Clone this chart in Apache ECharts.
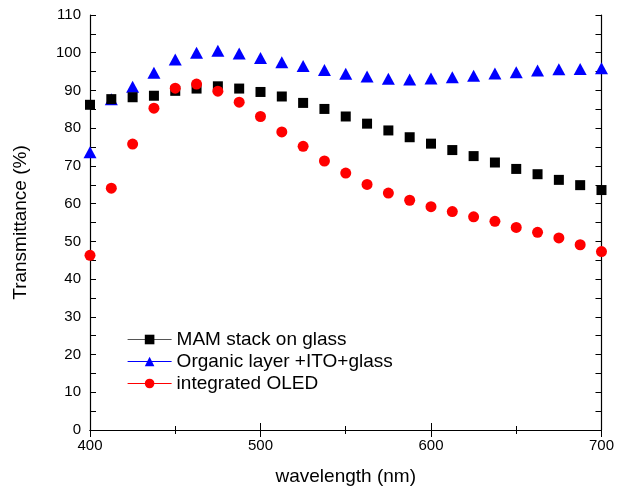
<!DOCTYPE html>
<html><head><meta charset="utf-8">
<script src="https://cdn.jsdelivr.net/npm/echarts@6/dist/echarts.min.js"></script>
<style>html,body{margin:0;padding:0;background:#fff}#c{width:617px;height:491px}</style>
</head><body><div id="c"></div>
<script>
var wavelengths = [400,412.5,425,437.5,450,462.5,475,487.5,500,512.5,525,537.5,550,562.5,575,587.5,600,612.5,625,637.5,650,662.5,675,687.5,700];
var mamStack = [86.2,87.7,88.2,88.6,89.9,90.5,91.1,90.5,89.6,88.4,86.7,85.1,83.1,81.2,79.4,77.6,75.9,74.2,72.6,70.9,69.2,67.8,66.3,64.9,63.6];
var organicITO = [73.6,87.7,91.0,94.7,98.2,100.0,100.5,99.8,98.6,97.5,96.5,95.4,94.4,93.7,93.1,92.9,93.2,93.5,93.9,94.5,94.8,95.3,95.6,95.7,95.9];
var integratedOLED = [46.3,64.1,75.8,85.3,90.6,91.7,89.8,86.9,83.1,79.0,75.2,71.3,68.1,65.1,62.8,60.9,59.2,57.9,56.5,55.3,53.7,52.4,50.9,49.1,47.3];
var seriesNames = ['MAM stack on glass','Organic layer +ITO+glass','integrated OLED'];

function pairs(v){ return wavelengths.map(function(w,i){return [w,v[i]];}); }
var font = 'Liberation Sans, Arial, sans-serif';
var chart = echarts.init(document.getElementById('c'));
var axisLine = {show:true, lineStyle:{color:'#000', width:1.2}};
chart.setOption({
  animation:false,
  grid:{left:90,right:11,top:15,bottom:57},
  legend:{
    orient:'vertical', left:122, top:325, itemWidth:44, itemHeight:12, itemGap:3,
    textStyle:{fontFamily:font, fontSize:19, color:'#000'},
    data:[
      {name:seriesNames[0], lineStyle:{opacity:1,color:'#555',width:1.2}},
      {name:seriesNames[1], lineStyle:{opacity:1,color:'#0000ff',width:1.2}},
      {name:seriesNames[2], lineStyle:{opacity:1,color:'#ff0000',width:1.2}}
    ]
  },
  xAxis:[{
    type:'value', min:400, max:700, interval:100,
    axisLine:axisLine,
    axisTick:{show:true, inside:true, length:7, lineStyle:{color:'#000'}},
    minorTick:{show:true, splitNumber:2, length:4, lineStyle:{color:'#000'}},
    splitLine:{show:false},
    axisLabel:{fontFamily:font, fontSize:15, color:'#000', margin:8},
    name:'wavelength (nm)', nameLocation:'middle', nameGap:37,
    nameTextStyle:{fontFamily:font, fontSize:19, color:'#000'}
  },{
    type:'value', min:400, max:700, interval:100, position:'top',
    axisLine:axisLine,
    axisTick:{show:true, inside:true, length:7, lineStyle:{color:'#000'}},
    minorTick:{show:true, splitNumber:2, length:4, lineStyle:{color:'#000'}},
    splitLine:{show:false}, axisLabel:{show:false}
  }],
  yAxis:[{
    type:'value', min:0, max:110, interval:10,
    axisLine:axisLine,
    axisTick:{show:true, inside:true, length:6, lineStyle:{color:'#000'}},
    minorTick:{show:true, splitNumber:2, length:6, lineStyle:{color:'#000'}},
    splitLine:{show:false},
    axisLabel:{fontFamily:font, fontSize:15, color:'#000', margin:9},
    name:'Transmittance (%)', nameLocation:'middle', nameGap:60, nameRotate:90,
    nameTextStyle:{fontFamily:font, fontSize:19, color:'#000'}
  },{
    type:'value', min:0, max:110, interval:10, position:'right',
    axisLine:axisLine,
    axisTick:{show:true, inside:true, length:6, lineStyle:{color:'#000'}},
    minorTick:{show:true, splitNumber:2, length:6, lineStyle:{color:'#000'}},
    splitLine:{show:false}, axisLabel:{show:false}
  }],
  series:[
    {name:seriesNames[0], type:'line', data:pairs(mamStack), symbol:'rect', symbolSize:10,
     itemStyle:{color:'#000'}, lineStyle:{opacity:0}, z:3},
    {name:seriesNames[1], type:'line', data:pairs(organicITO), symbol:'triangle', symbolSize:[13,12],
     itemStyle:{color:'#0000ff'}, lineStyle:{opacity:0}, z:2},
    {name:seriesNames[2], type:'line', data:pairs(integratedOLED), symbol:'circle', symbolSize:11,
     itemStyle:{color:'#ff0000'}, lineStyle:{opacity:0}, z:4}
  ]
});
</script></body></html>
